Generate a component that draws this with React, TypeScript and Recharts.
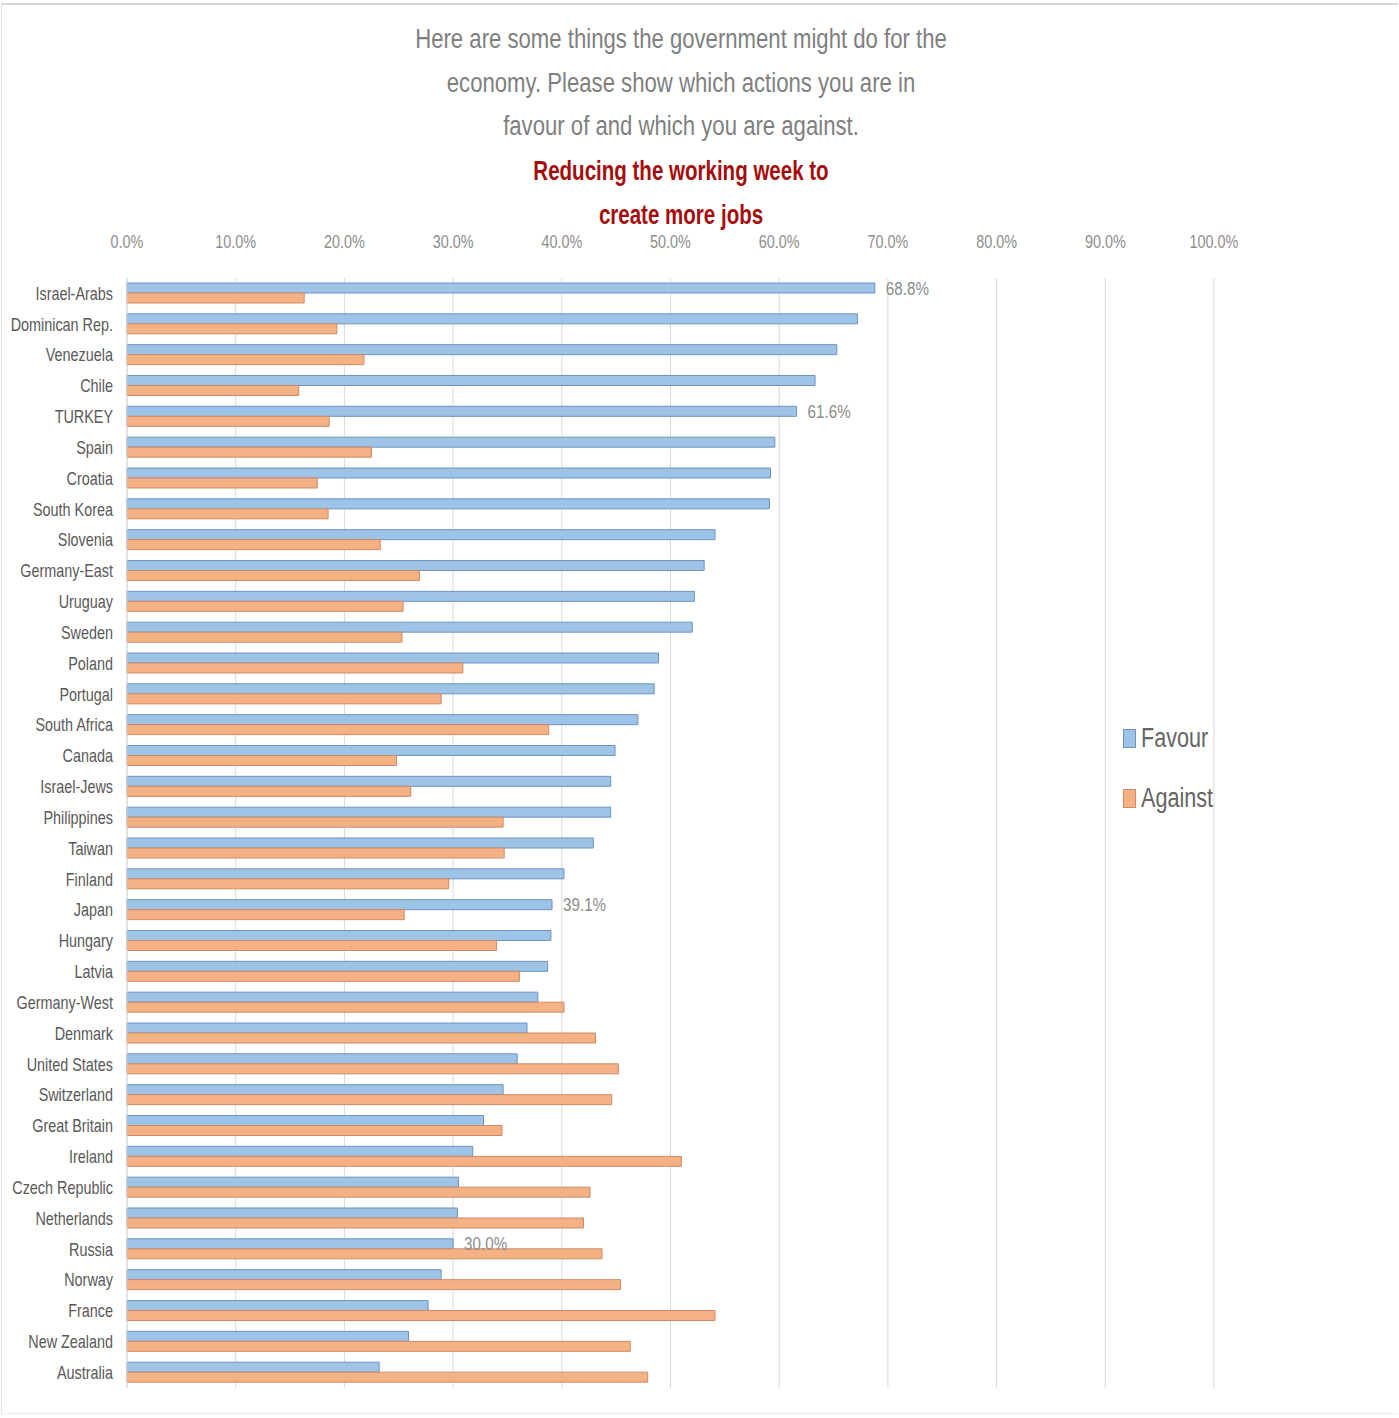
import {
  BarChart,
  Bar,
  XAxis,
  YAxis,
  CartesianGrid,
  Legend,
  LabelList,
} from 'recharts';

const FONT = "'Liberation Sans', Arial, sans-serif";
// the reference uses a narrow face; squeeze the regular one horizontally
const SQUEEZE = 0.8;

const countries = [
  'Israel-Arabs', 'Dominican Rep.', 'Venezuela', 'Chile', 'TURKEY', 'Spain',
  'Croatia', 'South Korea', 'Slovenia', 'Germany-East', 'Uruguay', 'Sweden',
  'Poland', 'Portugal', 'South Africa', 'Canada', 'Israel-Jews', 'Philippines',
  'Taiwan', 'Finland', 'Japan', 'Hungary', 'Latvia', 'Germany-West',
  'Denmark', 'United States', 'Switzerland', 'Great Britain', 'Ireland',
  'Czech Republic', 'Netherlands', 'Russia', 'Norway', 'France',
  'New Zealand', 'Australia',
];

// percent in favour
const favour = [
  68.8, 67.2, 65.3, 63.3, 61.6, 59.6, 59.2, 59.1, 54.1, 53.1, 52.2, 52.0,
  48.9, 48.5, 47.0, 44.9, 44.5, 44.5, 42.9, 40.2, 39.1, 39.0, 38.7, 37.8,
  36.8, 35.9, 34.6, 32.8, 31.8, 30.5, 30.4, 30.0, 28.9, 27.7, 25.9, 23.2,
];

// percent against
const against = [
  16.3, 19.3, 21.8, 15.8, 18.6, 22.5, 17.5, 18.5, 23.3, 26.9, 25.4, 25.3,
  30.9, 28.9, 38.8, 24.8, 26.1, 34.6, 34.7, 29.6, 25.5, 34.0, 36.1, 40.2,
  43.1, 45.2, 44.6, 34.5, 51.0, 42.6, 42.0, 43.7, 45.4, 54.1, 46.3, 47.9,
];

// only these bars carry a data label
const labelled = ['Israel-Arabs', 'TURKEY', 'Japan', 'Russia'];

const xTicks = [0, 10, 20, 30, 40, 50, 60, 70, 80, 90, 100];

const titleLines = [
  'Here are some things the government might do for the',
  'economy. Please show which actions you are in',
  'favour of and which you are against.',
];
const subtitleLines = ['Reducing the working week to', 'create more jobs'];

const data = countries.map((country, i) => ({
  country,
  Favour: favour[i],
  Against: against[i],
  favourLabel: labelled.includes(country) ? favour[i].toFixed(1) + '%' : undefined,
}));

const seriesStyle = [
  { key: 'Favour', fill: '#9dc3e6', stroke: '#6e93c2' },
  { key: 'Against', fill: '#f4b183', stroke: '#cf8a66' },
];

const YTick = (props: any) => {
  const { x, y, payload } = props;
  return (
    <g transform={`translate(${x},${y}) scale(${SQUEEZE},1)`}>
      <text x={0} y={0} dy="0.35em" textAnchor="end" fontSize={18} fill="#595959" fontFamily={FONT}>
        {payload.value}
      </text>
    </g>
  );
};

const XTick = (props: any) => {
  const { x, y, payload } = props;
  return (
    <g transform={`translate(${x},${y}) scale(${SQUEEZE},1)`}>
      <text x={0} y={0} textAnchor="middle" fontSize={18} fill="#8c8c8c" fontFamily={FONT}>
        {Number(payload.value).toFixed(1) + '%'}
      </text>
    </g>
  );
};

const BarLabel = (props: any) => {
  const { x, y, width, height, value } = props;
  if (value === undefined || value === null) return null;
  const lx = Number(x) + Number(width) + 11;
  const ly = Number(y) + Number(height) / 2;
  return (
    <g transform={`translate(${lx},${ly}) scale(${SQUEEZE},1)`}>
      <text x={0} y={0} dy="0.35em" textAnchor="start" fontSize={19} fill="#8c8c8c" fontFamily={FONT}>
        {value}
      </text>
    </g>
  );
};

const renderLegend = () => (
  <div style={{ fontFamily: FONT }}>
    {seriesStyle.map((s) => (
      <div
        key={s.key}
        style={{
          display: 'flex',
          alignItems: 'center',
          height: 40,
          marginBottom: 20,
        }}
      >
        <span
          style={{
            display: 'inline-block',
            width: 11,
            height: 17,
            background: s.fill,
            border: `1px solid ${s.stroke}`,
            marginRight: 5,
          }}
        />
        <span
          style={{
            display: 'inline-block',
            fontSize: 27,
            color: '#656565',
            transform: `scaleX(${SQUEEZE})`,
            transformOrigin: 'left center',
          }}
        >
          {s.key}
        </span>
      </div>
    ))}
  </div>
);

const App = () => {
  return (
    <div
      style={{
        position: 'absolute',
        left: 0,
        top: 0,
        width: 1399,
        height: 1418,
        background: '#ffffff',
        overflow: 'hidden',
      }}
    >
      <div
        style={{
          position: 'absolute',
          left: 1,
          top: 3,
          width: 1396,
          height: 1408,
          borderTop: '2px solid #d6d6d6',
          borderLeft: '1px solid #e2e2e2',
          borderBottom: '1px solid #ececec',
        }}
      />
      <div
        style={{
          position: 'absolute',
          left: 0,
          top: 18,
          width: 1362,
          textAlign: 'center',
          fontFamily: FONT,
        }}
      >
        {titleLines.map((t) => (
          <div
            key={t}
            style={{
              fontSize: 27,
              lineHeight: '43.5px',
              color: '#7f7f7f',
              transform: 'scaleX(0.82)',
            }}
          >
            {t}
          </div>
        ))}
        {subtitleLines.map((t) => (
          <div
            key={t}
            style={{
              fontSize: 27,
              lineHeight: '44px',
              color: '#a50d0d',
              fontWeight: 'bold',
              transform: 'scaleX(0.76)',
            }}
          >
            {t}
          </div>
        ))}
      </div>
      <div style={{ position: 'absolute', left: 0, top: 0 }}>
        <BarChart
          width={1399}
          height={1418}
          data={data}
          layout="vertical"
          margin={{ top: 238, right: 185, bottom: 30, left: 0 }}
          barSize={10}
          barGap={0}
        >
          <CartesianGrid horizontal={false} stroke="#d9d9d9" />
          <XAxis
            type="number"
            orientation="top"
            domain={[0, 100]}
            ticks={xTicks}
            height={40}
            tickSize={0}
            tickMargin={30}
            axisLine={false}
            tick={<XTick />}
          />
          <YAxis
            type="category"
            dataKey="country"
            width={127}
            tickSize={0}
            tickMargin={14}
            interval={0}
            axisLine={{ stroke: '#d9d9d9' }}
            tick={<YTick />}
          />
          <Legend
            layout="vertical"
            align="center"
            verticalAlign="middle"
            wrapperStyle={{ left: 1123, top: 718, width: 150 }}
            content={renderLegend}
          />
          <Bar
            dataKey="Favour"
            fill={seriesStyle[0].fill}
            stroke={seriesStyle[0].stroke}
            strokeWidth={1}
            isAnimationActive={false}
          >
            <LabelList dataKey="favourLabel" content={<BarLabel />} />
          </Bar>
          <Bar
            dataKey="Against"
            fill={seriesStyle[1].fill}
            stroke={seriesStyle[1].stroke}
            strokeWidth={1}
            isAnimationActive={false}
          />
        </BarChart>
      </div>
    </div>
  );
};

export default App;
